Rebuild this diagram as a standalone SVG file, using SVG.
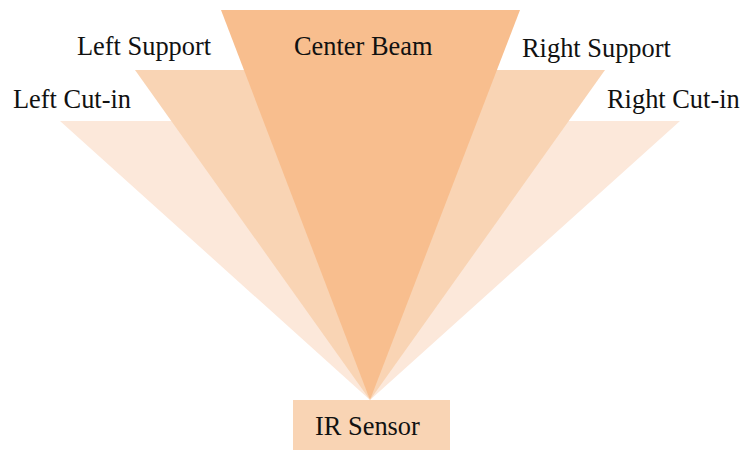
<svg xmlns="http://www.w3.org/2000/svg" width="743" height="450" viewBox="0 0 743 450">
  <style>
    .lbl { font-family: "Liberation Serif", "Times New Roman", serif; font-size: 26.4px; fill: #111; }
    .cut { fill: #FCE8DA; }
    .sup { fill: #F9D4B4; }
    .beam { fill: #F8BE8E; }
  </style>
  <rect width="743" height="450" fill="#ffffff"/>
  <!-- beam fans, drawn back to front, all meeting at the sensor -->
  <g id="left-cut-in">
    <polygon class="cut" points="60,121 220,121 370,400"/>
  </g>
  <g id="right-cut-in">
    <polygon class="cut" points="680,121 520,121 370,400"/>
  </g>
  <g id="left-support">
    <polygon class="sup" points="135,70 280,70 370,400"/>
  </g>
  <g id="right-support">
    <polygon class="sup" points="605,70 460,70 370,400"/>
  </g>
  <g id="center-beam">
    <polygon class="beam" points="221,10 520,10 370,400"/>
  </g>
  <g id="ir-sensor">
    <rect class="sup" x="293" y="400" width="157" height="50"/>
    <text class="lbl" x="315" y="435">IR Sensor</text>
  </g>
  <g id="labels">
    <text class="lbl" x="294" y="55">Center Beam</text>
    <text class="lbl" x="77" y="55">Left Support</text>
    <text class="lbl" x="13" y="108">Left Cut-in</text>
    <text class="lbl" x="522" y="57">Right Support</text>
    <text class="lbl" x="607" y="108">Right Cut-in</text>
  </g>
</svg>
